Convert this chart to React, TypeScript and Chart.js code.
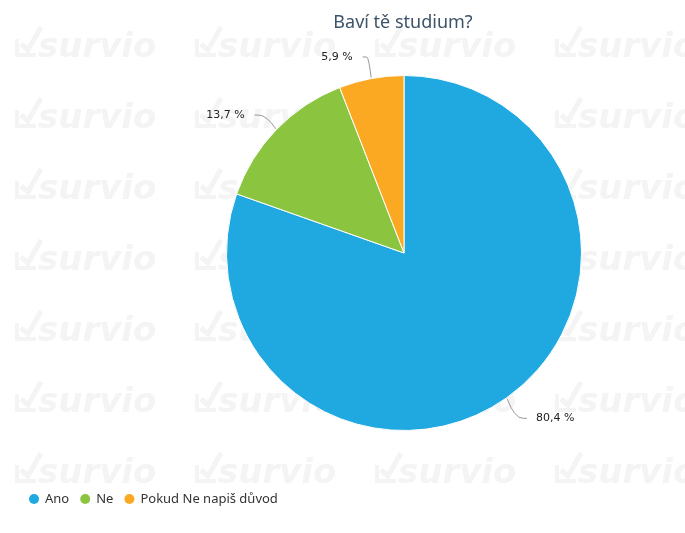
import React, { useEffect, useRef } from "react";
import { Chart, registerables } from "chart.js";
Chart.register(...registerables);

const TITLE = "Baví tě studium?";
const categories = ["Ano", "Ne", "Pokud Ne napiš důvod"];
const values = [80.4, 13.7, 5.9];
const valueLabels = ["80,4 %", "13,7 %", "5,9 %"];
const colors = ["#20a8e0", "#8bc540", "#fba823"];
const WATERMARK = "survio";

const backgroundPlugin = {
  id: "bgWatermark",
  beforeDraw(chart: any) {
    const ctx = chart.ctx;
    ctx.save();
    ctx.fillStyle = "#ffffff";
    ctx.fillRect(0, 0, chart.width, chart.height);
    ctx.fillStyle = "#f4f4f4";
    ctx.strokeStyle = "#f4f4f4";
    ctx.font = "italic bold 34px 'DejaVu Sans'";
    ctx.textBaseline = "alphabetic";
    for (let row = 0; row < 7; row++) {
      for (let col = 0; col < 4; col++) {
        const x = 14 + col * 180;
        const y = 57 + row * 71;
        ctx.lineWidth = 4;
        ctx.beginPath();
        ctx.moveTo(x + 3, y - 18);
        ctx.lineTo(x + 3, y - 2);
        ctx.lineTo(x + 22, y - 2);
        ctx.stroke();
        ctx.lineWidth = 5;
        ctx.beginPath();
        ctx.moveTo(x + 7, y - 13);
        ctx.lineTo(x + 14, y - 7);
        ctx.lineTo(x + 27, y - 30);
        ctx.stroke();
        ctx.fillText(WATERMARK, x + 24, y);
      }
    }
    ctx.restore();
  },
};

const overlayPlugin = {
  id: "overlay",
  afterDatasetsDraw(chart: any) {
    const ctx = chart.ctx;
    const meta = chart.getDatasetMeta(0);
    ctx.save();
    meta.data.forEach((arc: any, i: number) => {
      const { x, y, startAngle, endAngle, outerRadius } = arc.getProps(
        ["x", "y", "startAngle", "endAngle", "outerRadius"],
        true
      );
      const mid = (startAngle + endAngle) / 2;
      const c = Math.cos(mid);
      const s = Math.sin(mid);
      const right = c >= 0;
      const ex = x + (outerRadius + 1) * c;
      const ey = y + (outerRadius + 1) * s;
      const baseX = x + (outerRadius + 25) * c;
      const baseY = y + (outerRadius + 25) * s + (right ? 0 : 3);
      const endX = right ? baseX + 6 : baseX - 4;
      const textX = right ? baseX + 15 : baseX - 14;
      const bx = x + (outerRadius + 14) * c;
      ctx.strokeStyle = "#999999";
      ctx.lineWidth = 1;
      ctx.beginPath();
      ctx.moveTo(ex, ey);
      ctx.quadraticCurveTo(bx, baseY, endX + (right ? -4 : 4), baseY);
      ctx.lineTo(endX, baseY);
      ctx.stroke();
      ctx.fillStyle = "#222222";
      ctx.font = "11px 'DejaVu Sans'";
      ctx.textBaseline = "middle";
      ctx.textAlign = right ? "left" : "right";
      ctx.fillText(valueLabels[i], textX, baseY);
    });
    // title
    ctx.fillStyle = "#3d5468";
    ctx.font = "18px 'Noto Sans'";
    ctx.textAlign = "center";
    ctx.textBaseline = "alphabetic";
    ctx.fillText(TITLE, 403, 28);
    // legend
    ctx.font = "13px 'Noto Sans'";
    ctx.textAlign = "left";
    ctx.textBaseline = "middle";
    let lx = 34;
    const ly = 499;
    categories.forEach((cat, i) => {
      ctx.fillStyle = colors[i];
      ctx.beginPath();
      ctx.arc(lx, ly, 5, 0, Math.PI * 2);
      ctx.fill();
      ctx.fillStyle = "#333333";
      ctx.fillText(cat, lx + 11, ly);
      lx += 11 + ctx.measureText(cat).width + 16;
    });
    ctx.restore();
  },
};

export default function App() {
  const ref = useRef<HTMLCanvasElement>(null);
  useEffect(() => {
    if (!ref.current) return;
    const chart = new Chart(ref.current, {
      type: "pie",
      data: {
        labels: categories,
        datasets: [
          {
            data: values,
            backgroundColor: colors,
            borderColor: "#ffffff",
            borderWidth: 1,
            hoverOffset: 0,
          },
        ],
      },
      options: {
        animation: false,
        responsive: false,
        events: [],
        layout: { padding: { left: 226, right: 103, top: 75, bottom: 102 } },
        plugins: {
          legend: { display: false },
          title: { display: false },
          tooltip: { enabled: false },
        },
      },
      plugins: [backgroundPlugin, overlayPlugin],
    });
    return () => chart.destroy();
  }, []);
  return (
    <div style={{ position: "absolute", left: 0, top: 0, width: 685, height: 533 }}>
      <canvas ref={ref} width={685} height={533} style={{ display: "block" }} />
    </div>
  );
}
